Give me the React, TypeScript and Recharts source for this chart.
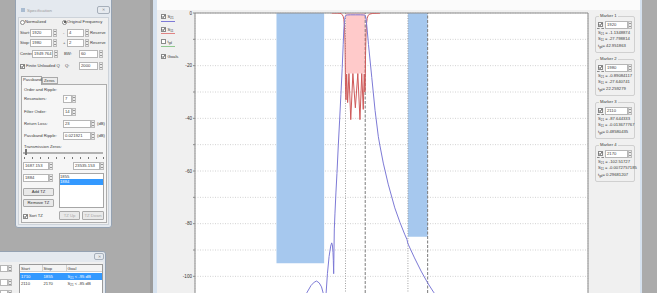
import React from "react";
import { CartesianGrid, ComposedChart, Line, ReferenceArea, ReferenceLine, XAxis, YAxis } from "recharts";

const FONT = '"Liberation Sans", Arial, sans-serif';

// S21 and S11 responses (MHz / dB)
const s21Freq = [1462, 1550, 1620, 1680, 1730, 1765, 1790, 1802, 1815, 1825, 1832, 1840, 1847, 1852, 1854, 1856, 1858, 1861, 1865, 1870, 1875, 1878, 1880, 1882, 1883, 1884, 1885, 1886, 1888, 1891, 1894, 1898, 1902, 1906, 1910, 1913, 1915, 1917, 1919, 1920, 1922, 1926, 1935, 1950, 1965, 1974, 1978, 1980, 1982, 1985, 1990, 2000, 2010, 2020, 2025, 2035, 2050, 2070, 2086, 2100, 2107, 2110, 2130, 2150, 2170, 2188, 2220, 2280, 2360, 2450, 2550, 2658];
const s21Db = [-152, -143, -136, -129, -122, -116, -109, -106.3, -103.5, -102.2, -101.8, -102.5, -104, -106.3, -110, -130, -115, -106.3, -99, -92.5, -88.5, -87.3, -88, -91, -94, -99, -90, -82, -76, -68, -61, -50.5, -41, -31, -21, -12, -6, -2.8, -1.4, -1.13, -0.85, -0.74, -0.7, -0.7, -0.7, -0.74, -0.8, -0.89, -1.8, -5, -12, -24.5, -37, -47, -50.5, -57, -65, -74, -79.6, -84, -86, -87.6, -93, -98, -102.5, -106, -111, -118, -125, -131, -137, -142];
const s11Freq = [1878, 1895, 1903, 1907, 1910, 1913, 1915, 1917, 1918.5, 1920, 1921.5, 1923.5, 1926.5, 1930.5, 1936, 1942.5, 1950, 1957.5, 1964, 1969.5, 1974, 1977, 1979, 1980, 1981, 1982.5, 1984, 1986, 1989, 1994, 2003, 2025];
const s11Db = [-0.02, -0.05, -0.12, -0.3, -0.6, -1.3, -2.4, -5, -11, -27.8, -33, -23.2, -34, -23, -40.5, -23, -36, -23, -40.5, -23, -36.6, -23.2, -30, -27.6, -16, -8, -4, -2, -0.9, -0.4, -0.15, -0.05];

// goals
const goalStart = [1710, 2110];
const goalStop = [1855, 2170];
const goalLevel = [-95, -85];
const passStart = 1920;
const passStop = 1980;
const returnLoss = 23;

// markers
const markerFreq = [1920, 1980, 2110, 2170];
const markerS21 = ["-1.1348874", "-0.89084117", "-87.644333", "-102.51727"];
const markerS11 = ["-27.798814", "-27.640741", "-0.013677767", "-0.0072757185"];
const markerTgd = ["42.951863", "22.259279", "0.48580435", "0.29681207"];

const xTicks = [1500, 1550, 1600, 1650, 1700, 1750, 1800, 1850, 1900, 1950, 2000, 2050, 2100, 2150, 2200, 2250, 2300, 2350, 2400, 2450, 2500, 2550, 2600];
const yTicks = [0, -5, -10, -15, -20, -25, -30, -35, -40, -45, -50, -55, -60, -65, -70, -75, -80, -85, -90, -95, -100, -105, -110, -115, -120];

const s21 = s21Freq.map((f, i) => ({ f, db: s21Db[i] }));
const s11 = s11Freq.map((f, i) => ({ f, db: s11Db[i] }));

function Box({ x, y, w, h, bg = "transparent", border, radius = 0, style, children }: any) {
  return (
    <div style={{ position: "absolute", left: x, top: y, width: w, height: h, background: bg, border, borderRadius: radius, boxSizing: "border-box", ...style }}>
      {children}
    </div>
  );
}

function T({ x, y, children, s = 4.2, c = "#3a3a3a", bg, w, align }: any) {
  return (
    <div style={{ position: "absolute", left: x, top: y - s * 0.62, width: w, textAlign: align, fontSize: s, lineHeight: `${s * 1.2}px`, color: c, background: bg, padding: bg ? "0 1px" : 0, whiteSpace: "nowrap", fontFamily: FONT }}>
      {children}
    </div>
  );
}

function Sub({ a, b }: any) {
  return <>{a}<span style={{ fontSize: "70%", position: "relative", top: "0.3em" }}>{b}</span></>;
}

function Input({ x, y, w, h = 8, v }: any) {
  return (
    <>
      <Box x={x} y={y} w={w} h={h} bg="#fff" border="1px solid #b6b6b6" />
      <T x={x + 2} y={y + h / 2}>{v}</T>
    </>
  );
}

function Spin({ x, y, w = 4, h = 8 }: any) {
  const tri = (up: boolean) => ({
    position: "absolute" as const, left: w / 2 - 2, top: up ? 1.2 : h / 2 + 0.3, width: 0, height: 0,
    borderLeft: "1px solid transparent", borderRight: "1px solid transparent",
    [up ? "borderBottom" : "borderTop"]: "1.4px solid #444",
  });
  return (
    <Box x={x} y={y} w={w} h={h} bg="#ebebeb" border="1px solid #bdbdbd">
      <div style={tri(true)} />
      <div style={tri(false)} />
    </Box>
  );
}

function Check({ x, y, on }: any) {
  return (
    <Box x={x} y={y} w={5} h={5} bg="#fff" border="1px solid #8a8a8a">
      {on && (
        <svg width={5} height={5} style={{ position: "absolute", left: -1, top: -1 }}>
          <polyline points="1,2.4 2.1,3.6 4,1.1" stroke="#222" strokeWidth={0.8} fill="none" />
        </svg>
      )}
    </Box>
  );
}

function Radio({ x, y, on }: any) {
  return (
    <Box x={x} y={y - 2.5} w={5} h={5} bg="#fff" border="1px solid #8a8a8a" radius={3}>
      {on && <div style={{ position: "absolute", left: 0.5, top: 0.5, width: 2, height: 2, borderRadius: 2, background: "#333" }} />}
    </Box>
  );
}

function Button({ x, y, w, h, label, off }: any) {
  return (
    <>
      <Box x={x} y={y} w={w} h={h} bg="#e9e9e9" border="1px solid #aaaaaa" radius={1} />
      <T x={x} y={y + h / 2} w={w} align="center" c={off ? "#a8a8a8" : "#333"}>{label}</T>
    </>
  );
}

// only every 20 dB gets a label, the other ticks are just marks
function DbTick({ x, y, payload }: any) {
  if (payload.value % 20 !== 0) return <g />;
  return (
    <text x={x} y={y} dy={1.6} textAnchor="end" fontSize={4.6} fill="#333" fontFamily={FONT}>
      {payload.value}
    </text>
  );
}

function ResponseChart() {
  return (
    <ComposedChart width={430} height={349} margin={{ top: 13, right: 2, bottom: 0, left: 0 }}>
      <CartesianGrid fill="#ffffff" stroke="#d2d2d2" strokeDasharray="1 1.5" />
      <XAxis type="number" dataKey="f" domain={[1462, 2658]} ticks={xTicks} allowDataOverflow height={20}
        tick={false} tickLine={false} axisLine={{ stroke: "#8c8c8c" }} />
      <YAxis type="number" domain={[-120, 0]} ticks={yTicks} allowDataOverflow width={35}
        tick={<DbTick />} tickSize={2} tickMargin={1}
        axisLine={{ stroke: "#8c8c8c" }} tickLine={{ stroke: "#8c8c8c" }} />
      {goalStart.map((g, i) => (
        <ReferenceArea key={g} x1={g} x2={goalStop[i]} y1={goalLevel[i]} y2={0} fill="#a6c8ee" fillOpacity={1} stroke="none" />
      ))}
      <ReferenceArea x1={passStart} x2={passStop} y1={-returnLoss} y2={0} fill="#ffcaca" fillOpacity={1} stroke="none" />
      {markerFreq.map((f, i) => (
        <ReferenceLine key={f} x={f} stroke={i % 2 ? "#7a7a7a" : "#a0a0a0"} strokeDasharray={i % 2 ? "3 1.5" : "1 1.5"} />
      ))}
      <ReferenceLine y={0} stroke="#8c8c8c" />
      <ReferenceLine x={2658} stroke="#8c8c8c" />
      <Line data={s11} dataKey="db" type="linear" stroke="#cf5a5a" strokeWidth={1} dot={false} isAnimationActive={false} />
      <Line data={s21} dataKey="db" type="linear" stroke="#7d7ad6" strokeWidth={1} dot={false} isAnimationActive={false} />
    </ComposedChart>
  );
}

export default function App() {
  const legend = [
    { label: <Sub a="S" b="21" />, on: true, y: 16.7, line: "#7d7ad6" },
    { label: <Sub a="S" b="11" />, on: true, y: 29.3, line: "#e08484" },
    { label: <Sub a="t" b="gd" />, on: false, y: 41.7, line: "#8fc88f" },
    { label: "Goals", on: true, y: 56.7, line: null },
  ];
  return (
    <div style={{ position: "absolute", left: 0, top: 0, width: 657, height: 293, overflow: "hidden", background: "#ababab", fontFamily: FONT }}>
      {/* main window */}
      <Box x={150} y={0} w={3} h={293} bg="#9b9b9b" />
      <Box x={153} y={0} w={4} h={293} bg="#d6e2ef" />
      <Box x={157} y={0} w={483} h={293} bg="#f0f0f0" />
      <Box x={157} y={0} w={483} h={10} bg="#fbfbfb" />
      <Box x={640} y={0} w={2} h={293} bg="#d6e2ef" />

      <div style={{ position: "absolute", left: 160, top: 0 }}>
        <ResponseChart />
      </div>

      {legend.map((l, i) => (
        <React.Fragment key={i}>
          <Check x={161} y={l.y - 2.5} on={l.on} />
          <T x={167.5} y={l.y}>{l.label}</T>
          {l.line && <Box x={161} y={l.y + 4} w={14} h={1} bg={l.line} />}
        </React.Fragment>
      ))}

      {/* markers */}
      {markerFreq.map((f, i) => {
        const top = 16 + 43 * i;
        return (
          <React.Fragment key={f}>
            <Box x={595} y={top} w={40} h={37} border="1px solid #d0d0d0" radius={2} />
            <T x={599} y={top} bg="#f0f0f0">Marker {i + 1}</T>
            <Check x={598} y={top + 6} on />
            <Box x={597} y={top + 12} w={7} h={1} style={{ borderTop: "1px dashed #8a8a8a" }} />
            <Input x={605} y={top + 5} w={23} v={String(f)} />
            <Spin x={628} y={top + 5} />
            <T x={598} y={top + 17}><Sub a="S" b="21" /> = {markerS21[i]}</T>
            <T x={598} y={top + 23}><Sub a="S" b="11" /> = {markerS11[i]}</T>
            <T x={598} y={top + 30}><Sub a="t" b="gd" />= {markerTgd[i]}</T>
          </React.Fragment>
        );
      })}

      {/* Specification dialog */}
      <Box x={15} y={-3} w={97} h={231} bg="#e4e9ef" border="1px solid #95a2b2" radius={3} />
      <Box x={21} y={8} w={4} h={4} bg="#a9bcd1" />
      <T x={27} y={11} s={4.4} c="#9a9a9a">Specification</T>
      <Box x={97} y={6} w={13} h={8} bg="#e6eaef" border="1px solid #a6afba" radius={2} />
      <T x={97} y={10} w={13} align="center" c="#8a8a8a">✕</T>
      <Box x={18} y={17} w={91} h={208} bg="#f0f0f0" border="1px solid #cdd3da" />

      <Radio x={20} y={22} />
      <T x={25} y={22}>Normalized</T>
      <Radio x={62} y={22} on />
      <T x={67} y={22}>Original Frequency</T>

      <T x={20} y={33}>Start:</T>
      <Input x={30} y={29} w={22} v="1920" />
      <Spin x={53} y={29} />
      <T x={63} y={33}>-</T>
      <Input x={67} y={29} w={17} v="4" />
      <Spin x={85} y={29} />
      <T x={90} y={33}>Reserve</T>

      <T x={20} y={43}>Stop:</T>
      <Input x={30} y={39} w={22} v="1980" />
      <Spin x={53} y={39} />
      <T x={63} y={43}>+</T>
      <Input x={67} y={39} w={17} v="2" />
      <Spin x={85} y={39} />
      <T x={90} y={43}>Reserve</T>

      <T x={20} y={54}>Center:</T>
      <Input x={32} y={50} w={21} v="1949.764" />
      <Spin x={54} y={50} />
      <T x={64} y={54}>BW:</T>
      <Input x={79} y={50} w={19} v="60" />
      <Spin x={99} y={50} />

      <Check x={20} y={63.5} on />
      <T x={26} y={66}>Finite Unloaded Q</T>
      <T x={65} y={66}>Q:</T>
      <Input x={79} y={62} w={19} v="2000" />
      <Spin x={99} y={62} />

      <Box x={21} y={84} w={86} h={139} bg="#f6f6f6" border="1px solid #adadad" />
      <Box x={42} y={77} w={16} h={7} bg="#ececec" border="1px solid #a9a9a9" />
      <T x={44} y={80.5}>Zeros</T>
      <Box x={21} y={76} w={21} h={9} bg="#f6f6f6" style={{ borderTop: "1px solid #a3a3a3", borderLeft: "1px solid #a3a3a3", borderRight: "1px solid #a3a3a3" }} />
      <T x={23} y={80}>Passband</T>

      <T x={24} y={90}>Order and Ripple:</T>
      <T x={24} y={99}>Resonators:</T>
      <Input x={63} y={95} w={9} v="7" />
      <Spin x={72} y={95} />
      <T x={24} y={112}>Filter Order:</T>
      <Input x={63} y={108} w={9} v="14" />
      <Spin x={72} y={108} />
      <T x={24} y={124}>Return Loss:</T>
      <Input x={63} y={120} w={28} v="23" />
      <Spin x={91} y={120} />
      <T x={97} y={124}>(dB)</T>
      <T x={24} y={136}>Passband Ripple:</T>
      <Input x={63} y={132} w={28} v="0.021921" />
      <Spin x={91} y={132} />
      <T x={97} y={136}>(dB)</T>

      <T x={24} y={147}>Transmission Zeros:</T>
      <Box x={23} y={152} w={80} h={2} bg="#e4e4e4" border="1px solid #b2b2b2" />
      <Box x={25} y={149} w={2} h={6} bg="#dcdcdc" border="1px solid #777" />
      {[24, 32, 40, 48, 56, 64, 72, 80, 88, 96, 103].map((tx) => (
        <Box key={tx} x={tx} y={157} w={1} h={2} bg="#777" />
      ))}
      <Input x={23} y={162} w={26} v="1687.153" />
      <Spin x={49} y={162} />
      <Input x={73} y={162} w={27} v="23535.153" />
      <Spin x={100} y={162} />
      <Input x={23} y={174} w={26} v="1884" />
      <Spin x={49} y={174} />
      <Box x={59} y={173} w={45} h={35} bg="#fff" border="1px solid #a6a6a6" />
      <T x={60} y={176.5}>1855</T>
      <Box x={60} y={179} w={43} h={6} bg="#3399ff" />
      <T x={60} y={182} c="#fff">1884</T>
      <Button x={23} y={188} w={31} h={8} label="Add TZ" />
      <Button x={23} y={199} w={31} h={8} label="Remove TZ" />
      <Check x={23} y={213.5} on />
      <T x={29} y={216}>Sort TZ</T>
      <Button x={59} y={211} w={21} h={9} label="TZ Up" off />
      <Button x={82} y={211} w={22} h={9} label="TZ Down" off />

      {/* goals dialog */}
      <Box x={-3} y={251} w={109} h={60} bg="#e4e9ef" border="1px solid #95a2b2" radius={3} />
      <Box x={94} y={253} w={10} h={7} bg="#e6eaef" border="1px solid #a6afba" radius={2} />
      <T x={94} y={256.5} w={10} align="center" c="#8a8a8a">✕</T>
      <Box x={0} y={262} w={103} h={40} bg="#f0f0f0" />
      {[265, 279, 290].map((yy) => (
        <React.Fragment key={yy}>
          <Box x={0} y={yy} w={8} h={7} bg="#fff" border="1px solid #b6b6b6" />
          <Spin x={8} y={yy} h={7} />
        </React.Fragment>
      ))}
      <Box x={19} y={264} w={84} h={40} bg="#fff" border="1px solid #9a9a9a" />
      <Box x={20} y={265} w={82} h={7} bg="#f4f4f4" style={{ borderBottom: "1px solid #d0d0d0" }} />
      <Box x={42} y={265} w={1} h={7} bg="#cfcfcf" />
      <Box x={66} y={265} w={1} h={7} bg="#cfcfcf" />
      <T x={21} y={268.7}>Start</T>
      <T x={43.5} y={268.7}>Stop</T>
      <T x={67.5} y={268.7}>Goal</T>
      <Box x={20} y={273} w={82} h={7} bg="#3399ff" />
      <T x={21} y={276.7} c="#fff">{goalStart[0]}</T>
      <T x={43.5} y={276.7} c="#fff">{goalStop[0]}</T>
      <T x={67.5} y={276.7} c="#fff"><Sub a="S" b="21" /> &lt; {goalLevel[0]} dB</T>
      <T x={21} y={284}>{goalStart[1]}</T>
      <T x={43.5} y={284}>{goalStop[1]}</T>
      <T x={67.5} y={284}><Sub a="S" b="21" /> &lt; {goalLevel[1]} dB</T>
    </div>
  );
}
